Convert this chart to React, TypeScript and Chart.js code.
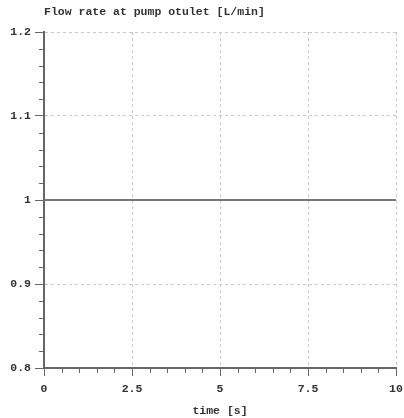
import React, { useEffect, useRef } from "react";
import { Chart, registerables } from "chart.js";

Chart.register(...registerables);

const timeValues = [0, 2.5, 5, 7.5, 10];
const flowValues = [1, 1, 1, 1, 1];
const xMajorTicks = [0, 2.5, 5, 7.5, 10];
const yMajorTicks = [0.8, 0.9, 1, 1.1, 1.2];
const chartTitle = "Flow rate at pump otulet [L/min]";
const xTitle = "time [s]";

const FONT = "'Liberation Mono', 'DejaVu Sans Mono', monospace";
const TEXT = "#333";
const AXIS = "#666";

const isMajor = (v: number, step: number) => Math.abs(v / step - Math.round(v / step)) < 1e-6;

const minorTicks = {
  id: "minorTicks",
  afterDraw(chart: any) {
    const { ctx, scales } = chart;
    const x = scales.x;
    const y = scales.y;
    ctx.save();
    ctx.strokeStyle = AXIS;
    ctx.lineWidth = 1;
    ctx.beginPath();
    for (let v = 0; v <= 10.0001; v += 0.5) {
      if (isMajor(v, 2.5)) continue;
      const px = Math.round(x.getPixelForValue(v)) + 0.5;
      ctx.moveTo(px, x.top);
      ctx.lineTo(px, x.top + 5);
    }
    for (let v = 0.8; v <= 1.2001; v += 0.02) {
      if (isMajor(v, 0.1)) continue;
      const py = Math.round(y.getPixelForValue(v)) + 0.5;
      ctx.moveTo(y.right, py);
      ctx.lineTo(y.right - 5, py);
    }
    ctx.stroke();
    ctx.restore();
  },
};

export default function App() {
  const ref = useRef<HTMLCanvasElement | null>(null);
  useEffect(() => {
    document.body.style.margin = "0";
    const canvas = ref.current!;
    const chart = new Chart(canvas, {
      type: "line",
      data: {
        datasets: [
          {
            data: timeValues.map((t, i) => ({ x: t, y: flowValues[i] })),
            borderColor: "#777",
            borderWidth: 2,
            pointRadius: 0,
            tension: 0,
          },
        ],
      },
      options: {
        animation: false,
        responsive: false,
        devicePixelRatio: 1,
        layout: { padding: { left: 0, right: 8, top: 0, bottom: 0 } },
        plugins: {
          legend: { display: false },
          tooltip: { enabled: false },
          title: {
            display: true,
            text: chartTitle,
            align: "start",
            fullSize: false,
            color: TEXT,
            font: { family: FONT, size: 11.5, weight: "bold", lineHeight: 1.2 },
            padding: { top: 5.5, bottom: 12.7 },
          },
        },
        scales: {
          x: {
            type: "linear",
            min: 0,
            max: 10,
            afterBuildTicks: (s: any) => {
              s.ticks = xMajorTicks.map((v) => ({ value: v }));
            },
            afterFit: (s: any) => {
              s.height = 50;
              s.paddingLeft = 0;
              s.paddingRight = 0;
            },
            ticks: {
              color: TEXT,
              font: { family: FONT, size: 11.5, weight: "bold" },
              padding: 6,
              maxRotation: 0,
              autoSkip: false,
              callback: (v: any) => String(v),
            },
            grid: {
              color: (c: any) => (c.tick && (c.tick.value === 0) ? "rgba(0,0,0,0)" : "#c8c8c8"),
              tickColor: AXIS,
              tickLength: 8,
              lineWidth: 1,
            },
            border: { display: true, color: AXIS, width: 2, dash: [3, 3] },
            title: {
              display: true,
              text: xTitle,
              color: TEXT,
              font: { family: FONT, size: 11.5, weight: "bold", lineHeight: 1.2 },
              padding: { top: 0, bottom: 0 },
            },
          },
          y: {
            type: "linear",
            min: 0.8,
            max: 1.2,
            afterBuildTicks: (s: any) => {
              s.ticks = yMajorTicks.map((v) => ({ value: v }));
            },
            afterFit: (s: any) => {
              s.width = 44;
              s.paddingTop = 0;
              s.paddingBottom = 0;
            },
            ticks: {
              color: TEXT,
              font: { family: FONT, size: 11.5, weight: "bold" },
              padding: 4,
              autoSkip: false,
              callback: (v: any) => String(Math.round(Number(v) * 10) / 10),
            },
            grid: {
              color: (c: any) => (c.tick && Math.abs(c.tick.value - 0.8) < 1e-6 ? "rgba(0,0,0,0)" : "#c8c8c8"),
              tickColor: AXIS,
              tickLength: 9,
              lineWidth: 1,
            },
            border: { display: true, color: AXIS, width: 2, dash: [3, 3] },
          },
        },
      },
      plugins: [minorTicks],
    });
    return () => chart.destroy();
  }, []);
  return <canvas ref={ref} width={404} height={418} style={{ display: "block" }} />;
}
